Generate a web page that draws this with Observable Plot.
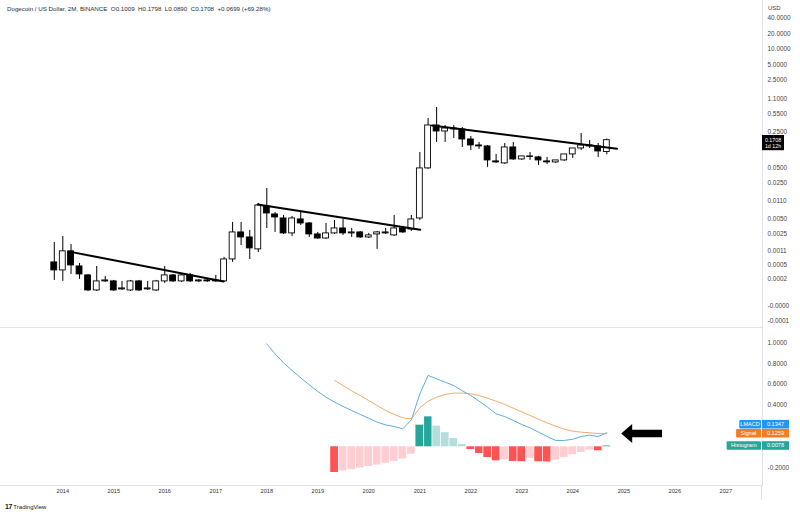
<!DOCTYPE html>
<html><head><meta charset="utf-8">
<script src="https://cdn.jsdelivr.net/npm/d3@7"></script>
<script src="https://cdn.jsdelivr.net/npm/@observablehq/plot@0.6"></script>
<style>
html,body{margin:0;padding:0;background:#fff;}
#wrap{position:relative;width:800px;height:516px;overflow:hidden;font-family:"Liberation Sans",Arial,sans-serif;background:#fff;}
#top,#bot{position:absolute;left:0;}
#top{top:0;} #bot{top:327px;}
#hdr{position:absolute;left:7px;top:5px;font-size:6.2px;color:#2a2e39;white-space:pre;}
#usd{position:absolute;left:763px;top:0;width:37px;height:15px;background:#fff;font-size:6px;color:#444;padding:5px 0 0 5px;box-sizing:border-box;}
#vline{position:absolute;left:761px;top:485px;width:1px;height:15px;background:#e0e3eb;}
#logo{position:absolute;left:5px;top:503px;font-size:6px;color:#131722;white-space:pre;}
#logo b{font-size:7px;font-weight:900;letter-spacing:-0.5px;}
</style></head>
<body><div id="wrap">
<div id="top"></div><div id="bot"></div>
<div id="hdr">Dogecoin / US Dollar, 2M, BINANCE  O0.1009  H0.1798  L0.0890  C0.1708  +0.0699 (+69.28%)</div>
<div id="usd">USD</div>
<div id="vline"></div>
<div id="logo"><b>17</b> TradingView</div>
</div>
<script>
// ---------- candle data (2-month bars) ----------
const dates = ["2013-11-01",
 "2014-01-01","2014-03-01","2014-05-01","2014-07-01","2014-09-01","2014-11-01",
 "2015-01-01","2015-03-01","2015-05-01","2015-07-01","2015-09-01","2015-11-01",
 "2016-01-01","2016-03-01","2016-05-01","2016-07-01","2016-09-01","2016-11-01",
 "2017-01-01","2017-03-01","2017-05-01","2017-07-01","2017-09-01","2017-11-01",
 "2018-01-01","2018-03-01","2018-05-01","2018-07-01","2018-09-01","2018-11-01",
 "2019-01-01","2019-03-01","2019-05-01","2019-07-01","2019-09-01","2019-11-01",
 "2020-01-01","2020-03-01","2020-05-01","2020-07-01","2020-09-01","2020-11-01",
 "2021-01-01","2021-03-01","2021-05-01","2021-07-01","2021-09-01","2021-11-01",
 "2022-01-01","2022-03-01","2022-05-01","2022-07-01","2022-09-01","2022-11-01",
 "2023-01-01","2023-03-01","2023-05-01","2023-07-01","2023-09-01","2023-11-01",
 "2024-01-01","2024-03-01","2024-05-01","2024-07-01","2024-09-01"];
const open = [0.000583,
 0.000364,0.00105,0.000463,0.000262,0.000062,0.000166,
 0.000166,0.000072,0.000062,0.000166,0.000072,0.000062,
 0.000166,0.000262,0.000166,0.000262,0.000166,0.00018,
 0.000166,0.000166,0.000687,0.00264,0.00208,0.00116,
 0.00873,0.00607,0.00505,0.00252,0.00483,0.00401,
 0.0024,0.00198,0.00252,0.00318,0.00252,0.00264,
 0.00208,0.0024,0.00252,0.00229,0.00318,0.00303,
 0.00505,0.0484,0.3297,0.2523,0.2885,0.2759,
 0.1765,0.1351,0.1292,0.0662,0.0605,0.1235,
 0.0723,0.0827,0.0791,0.0662,0.0633,0.0692,
 0.0904,0.1181,0.1351,0.1292,0.1009];
const high = [0.00163,
 0.00218,0.00148,0.000551,0.00028,0.000463,0.000244,
 0.00018,0.000166,0.00018,0.00018,0.000166,0.00018,
 0.000463,0.00028,0.00028,0.0003,0.000195,0.000195,
 0.000262,0.000765,0.0042,0.0042,0.0029,0.01001,
 0.01968,0.00665,0.0058,0.00554,0.00665,0.0042,
 0.00264,0.00401,0.00461,0.00483,0.00318,0.00276,
 0.00252,0.00276,0.00318,0.0058,0.00349,0.0058,
 0.0988,0.4506,0.7364,0.3297,0.3297,0.3016,
 0.2018,0.1544,0.1351,0.0904,0.1477,0.1544,
 0.0827,0.0988,0.0827,0.0791,0.0692,0.0904,
 0.1181,0.2307,0.1688,0.1477,0.1798];
const low = [0.00018,
 0.000166,0.00028,0.000195,0.000053,0.000053,0.000152,
 0.000053,0.000062,0.000053,0.000053,0.000062,0.000053,
 0.000139,0.000152,0.000152,0.000152,0.000152,0.000152,
 0.000152,0.000152,0.000583,0.00141,0.000687,0.00099,
 0.00318,0.00264,0.0024,0.00218,0.00366,0.00208,
 0.00189,0.00189,0.0024,0.00229,0.00208,0.00198,
 0.00198,0.00116,0.0024,0.00218,0.00252,0.00276,
 0.00461,0.0463,0.1544,0.1544,0.1845,0.1235,
 0.108,0.113,0.0506,0.0605,0.0579,0.0692,
 0.0692,0.0692,0.0553,0.0579,0.0605,0.0662,
 0.0756,0.108,0.1181,0.0791,0.089];
const close = [0.000364,
 0.00105,0.000491,0.00028,0.000062,0.000166,0.00018,
 0.000062,0.000082,0.000166,0.000062,0.000082,0.000166,
 0.000262,0.000166,0.000262,0.000166,0.00018,0.000166,
 0.00018,0.000687,0.00264,0.00208,0.00122,0.00914,
 0.00635,0.00529,0.00252,0.00505,0.00401,0.0024,
 0.00198,0.00252,0.00318,0.00252,0.00264,0.00208,
 0.00229,0.00264,0.00264,0.00318,0.00264,0.00483,
 0.0484,0.3297,0.2523,0.2885,0.2759,0.1765,
 0.1351,0.1292,0.0692,0.0633,0.1235,0.0723,
 0.0827,0.081,0.0692,0.0633,0.0692,0.0904,
 0.1181,0.1351,0.1292,0.1033,0.1708];

// trend lines drawn on the chart
const trendId    = [1, 1, 2, 2, 3, 3];
const trendDate  = ["2014-03-07","2017-02-26","2017-10-27","2021-01-04","2021-03-28","2024-11-13"];
const trendPrice = [0.00101, 0.000166, 0.00956, 0.0030, 0.33, 0.1166];

// price axis tick values (TradingView-style log scale)
const priceTicks = [40, 20, 10, 5, 2.5, 1.1, 0.55, 0.25, 0.11, 0.05, 0.025, 0.011, 0.005, 0.0025, 0.0011, 0.0005, 0.0002, -0.00004, -0.0000945];
const priceDomain = [-0.000107, 87.3];
const priceTagSub = "1d 12h";

// ---------- LMACD panel ----------
const macdStart = "2018-01-01";
const macd = [0.990,0.894,0.807,0.734,0.663,0.596,0.532,0.477,0.429,0.388,
 0.349,0.311,0.275,0.237,0.211,0.195,0.173,0.259,0.509,0.686,
 0.654,0.621,0.589,0.538,0.493,0.439,0.381,0.317,0.291,0.253,
 0.214,0.182,0.141,0.099,0.061,0.061,0.073,0.099,0.112,0.099,0.1347];
const signalStart = "2019-05-01";
const signal = [0.638,0.589,0.538,0.493,0.445,0.397,0.349,0.311,0.279,0.269,
 0.375,0.439,0.477,0.503,0.516,0.516,0.509,0.493,0.467,0.439,
 0.407,0.371,0.336,0.301,0.265,0.230,0.198,0.170,0.150,0.141,
 0.134,0.128,0.1259];
const hist = [-0.247,-0.232,-0.218,-0.204,-0.190,-0.175,-0.158,-0.140,-0.118,-0.072,
 0.208,0.288,0.199,0.135,0.080,0.022,
 -0.026,-0.064,-0.103,-0.135,-0.125,-0.141,-0.143,-0.112,-0.144,-0.146,-0.128,-0.103,-0.077,-0.054,-0.032,-0.038,0.0078];
const macdTicks = [1.0, 0.8, 0.6, 0.4, 0.2, 0.0, -0.2];
const macdDomain = [-0.3721, 1.1471];
const yearTicks = ["2014","2015","2016","2017","2018","2019","2020","2021","2022","2023","2024","2025","2026","2027"];
const lastLabels = [
  {name:"LMACD", value:0.1347, color:"#2196f3"},
  {name:"Signal", value:0.1259, color:"#f57c1f"},
  {name:"Histogram", value:0.0078, color:"#26a69a"}
];
// arrow annotation (data units of the LMACD panel)
const arrowHead = [{date:"2025-01-21", v:0.128}];
const arrowShaft = {from:"2025-02-10", to:"2025-10-05", v:0.128};

// ---------- build ----------
const C = 0.000147;               // offset of TradingView log scale
const fy = v => Math.log10(v + C);
const ify = t => Math.pow(10, t) - C;
const P = d => new Date(d + (d.length === 4 ? "-01-01" : "") + "T00:00:00Z");

const candles = dates.map((d, i) => ({date:P(d), o:open[i], h:high[i], l:low[i], c:close[i]}));
const trend = trendId.map((id, i) => ({id, date:P(trendDate[i]), price:trendPrice[i]}));
const addMonths = (s, k) => d3.utcMonth.offset(P(s), k);
const macdData = macd.map((v, i) => ({date:addMonths(macdStart, 2*i), v}));
const signalData = signal.map((v, i) => ({date:addMonths(signalStart, 2*i), v}));
const histData = hist.map((v, i) => {
  const prev = i > 0 ? hist[i-1] : null;
  let col;
  if (v >= 0) col = (prev === null || v > prev) ? "#26a69a" : "#b2dfdb";
  else col = (prev === null || v < prev) ? "#ff5252" : "#ffcdd2";
  return {date:addMonths(signalStart, 2*i), v, col};
});

const xScale = {type:"utc", domain:[P("2014"), P("2027")], range:[62.3, 725.3]};
const font = "Liberation Sans, Arial, sans-serif";
const TOP_H = 327, BOT_H = 189, BOT_MB = 31;

// scales known up front so that axis labels hidden behind the value tags can be left out
const topY = Plot.scale({y:{domain:priceDomain.map(fy), range:[TOP_H, 0]}});
const lastClose = close[close.length-1];
const tagY = topY.apply(fy(lastClose));
const tagTop = tagY - 4.7, tagBot = tagY + 10.5;
const shownPriceTicks = priceTicks.filter(v => { const y = topY.apply(fy(v)); return y < tagTop - 3 || y > tagBot + 3; });

const botY = Plot.scale({y:{domain:macdDomain, range:[BOT_H - BOT_MB, 0]}});
const tags = lastLabels.map(d => ({...d, y: botY.apply(d.value)}));
{
  const order = tags.slice().sort((a,b) => b.y - a.y);
  for (let i = 1; i < order.length; i++) if (order[i-1].y - order[i].y < 9) order[i].y = order[i-1].y - 9;
}
const shownMacdTicks = macdTicks.filter(v => tags.every(t => Math.abs(botY.apply(v) - t.y) > 7.5));

const topPlot = Plot.plot({
  width:800, height:TOP_H, marginTop:0, marginBottom:0, marginLeft:0, marginRight:38,
  style:{background:"transparent", fontFamily:font, overflow:"visible"},
  x:{...xScale, axis:null},
  y:{domain:priceDomain.map(fy), axis:null},
  marks:[
    Plot.frame({anchor:"right", stroke:"#e0e3eb"}),
    Plot.ruleX(candles, {x:"date", y1:d=>fy(d.l), y2:d=>fy(d.h), stroke:"#000", strokeWidth:1}),
    Plot.rect(candles, {x1:d=>d3.utcDay.offset(d.date,-21), x2:d=>d3.utcDay.offset(d.date,21),
      y1:d=>fy(d.o), y2:d=>fy(d.c), fill:d=>d.c>=d.o?"#fff":"#000", stroke:"#000", strokeWidth:0.9}),
    Plot.line(trend, {x:"date", y:d=>fy(d.price), z:"id", stroke:"#000", strokeWidth:2}),
    Plot.axisY(shownPriceTicks.map(fy), {anchor:"right", tickSize:0, tickPadding:5, label:null,
      tickFormat:t=>ify(t).toFixed(4), fontSize:6.4, fill:"#444", textAnchor:"start"})
  ]
});
document.getElementById("top").appendChild(topPlot);

// last price tag
{
  const y = topPlot.scale("y").apply(fy(lastClose));
  const g = d3.select(topPlot).append("g").attr("font-family", font).attr("font-size", 5.3).attr("fill", "#fff");
  g.append("rect").attr("x", 762).attr("y", y-4.7).attr("width", 22).attr("height", 15.2).attr("fill", "#000");
  g.append("text").attr("x", 773).attr("y", y).attr("dy","0.35em").attr("text-anchor","middle").text(lastClose.toFixed(4));
  g.append("text").attr("x", 773).attr("y", y+6.3).attr("dy","0.35em").attr("text-anchor","middle").text(priceTagSub);
}

const leftTri = {draw(ctx){ ctx.moveTo(-5.5,0); ctx.lineTo(5.5,-9.4); ctx.lineTo(5.5,9.4); ctx.closePath(); }};

const botPlot = Plot.plot({
  width:800, height:BOT_H, marginTop:0, marginBottom:BOT_MB, marginLeft:0, marginRight:38,
  style:{background:"transparent", fontFamily:font, overflow:"visible"},
  x:{...xScale},
  y:{domain:macdDomain, axis:null},
  marks:[
    Plot.frame({anchor:"top", stroke:"#e0e3eb"}),
    Plot.frame({anchor:"bottom", stroke:"#e0e3eb"}),
    Plot.frame({anchor:"right", stroke:"#e0e3eb"}),
    Plot.rectY(histData, {x1:d=>d3.utcMonth.offset(d.date,-1), x2:d=>d3.utcMonth.offset(d.date,1),
      y1:0, y2:"v", fill:"col", insetLeft:0.4, insetRight:0.4}),
    Plot.line(macdData, {x:"date", y:"v", stroke:"#4aa3df", strokeWidth:0.9}),
    Plot.line(signalData, {x:"date", y:"v", stroke:"#f2a05a", strokeWidth:0.9}),
    Plot.ruleY([arrowShaft], {x1:d=>P(d.from), x2:d=>P(d.to), y:"v", stroke:"#000", strokeWidth:7.7}),
    Plot.dot(arrowHead, {x:d=>P(d.date), y:"v", symbol:leftTri, fill:"#000", stroke:null, r:5}),
    Plot.axisY(shownMacdTicks, {anchor:"right", tickSize:0, tickPadding:5, label:null,
      tickFormat:d=>d.toFixed(4), fontSize:6.4, fill:"#444", textAnchor:"start"}),
    Plot.axisX(yearTicks.map(P), {tickSize:0, tickPadding:4, label:null, tickFormat:d3.utcFormat("%Y"),
      fontSize:5.6, fill:"#333"})
  ]
});
document.getElementById("bot").appendChild(botPlot);

// last-value tags on the LMACD panel
{
  const g = d3.select(botPlot).append("g").attr("font-family", font).attr("font-size", 5.6).attr("fill", "#fff");
  tags.forEach(d => {
    const w = d.name.length*3.15 + 6;
    g.append("rect").attr("x", 761-w).attr("y", d.y-4.3).attr("width", w).attr("height", 8.6).attr("fill", d.color).attr("rx", 1);
    g.append("text").attr("x", 761-w/2).attr("y", d.y).attr("dy","0.35em").attr("text-anchor","middle").text(d.name);
    g.append("rect").attr("x", 762).attr("y", d.y-4.3).attr("width", 27).attr("height", 8.6).attr("fill", d.color);
    g.append("text").attr("x", 775.5).attr("y", d.y).attr("dy","0.35em").attr("text-anchor","middle").text(d.value.toFixed(4));
  });
}
</script>
</body></html>
